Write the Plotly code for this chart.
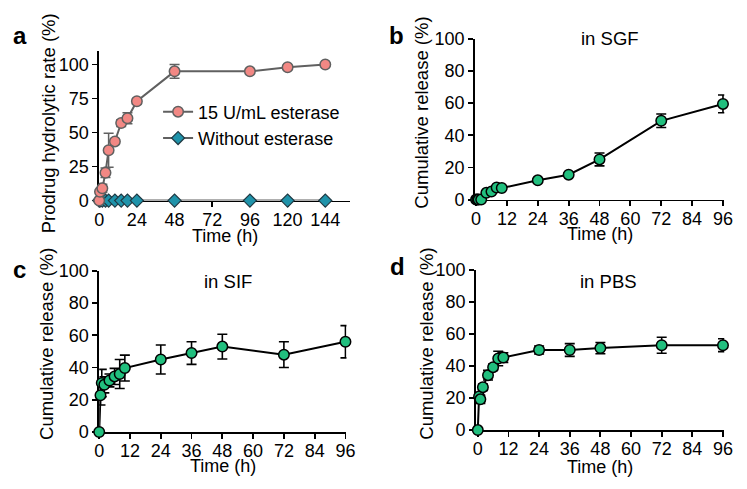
import plotly.graph_objects as go

W, H = 747, 489
FONT = "Arial, 'Liberation Sans', sans-serif"
FS_TICK = 18
FS = 18.5

# ---------------- data ----------------
a_time = [0, 0.5, 2, 4, 6, 10, 14, 18, 24, 48, 96, 120, 144]
a_esterase = [0, 6.5, 9, 20.5, 37, 43.5, 57, 60.5, 73, 95, 95, 98, 100]
a_esterase_err = [0, 6, 3, 3.5, 12.5, 2, 2.5, 4, 2, 5, 1.5, 1.5, 1]
a_without = [0, 0, 0, 0, 0, 0, 0, 0, 0, 0, 0, 0, 0]
a_without_err = [0, 0, 0, 0, 0, 0, 0, 0, 0, 0, 0, 0, 0]

rel_time = [0, 0.5, 1, 2, 4, 6, 8, 10, 24, 36, 48, 72, 96]
b_sgf = [0, 0, 0, 0, 4.2, 5, 7.5, 7.2, 12, 15.5, 25, 49, 59.5]
b_sgf_err = [0, 0.5, 0.5, 0.5, 1, 1, 1, 1, 1, 1, 4, 4.2, 5.5]
c_sif = [0, 22.8, 30.4, 29.3, 32, 34.5, 36, 39.7, 45, 49, 53, 48, 56]
c_sif_err = [0, 6, 8.5, 5, 4, 5, 9, 8, 9, 7, 7.7, 8, 10]
d_pbs = [0, 21, 19.2, 26.8, 34.3, 39.3, 44.7, 45.3, 50, 50, 51.2, 53, 53]
d_pbs_err = [0, 2, 2.5, 2, 3, 2, 4.5, 3, 2.5, 4, 3.5, 5, 4]

a_xticks = [0, 24, 48, 72, 96, 120, 144]
a_yticks = [0, 25, 50, 75, 100]
rel_xticks = [0, 12, 24, 36, 48, 60, 72, 84, 96]
rel_yticks = [0, 20, 40, 60, 80, 100]


def px_x(x):
    return x / W


def px_y(y):
    return 1 - y / H


PINK = "#F28884"
TEAL = "#1F93AA"
GREEN = "#21BF7E"
GRAY = "#606060"

fig = go.Figure()

# panel a
fig.add_trace(go.Scatter(
    x=a_time, y=a_without, name="Without esterase", mode="lines+markers",
    xaxis="x", yaxis="y",
    line=dict(color=GRAY, width=2),
    marker=dict(symbol="diamond", size=10, color=TEAL, line=dict(color="#203a44", width=1.2)),
    error_y=dict(type="data", array=a_without_err, color=GRAY, thickness=1.5, width=5),
    cliponaxis=False,
))
fig.add_trace(go.Scatter(
    x=a_time, y=a_esterase, name="15 U/mL esterase", mode="lines+markers",
    xaxis="x", yaxis="y",
    line=dict(color=GRAY, width=2),
    marker=dict(symbol="circle", size=10.5, color=PINK, line=dict(color=GRAY, width=1.5)),
    error_y=dict(type="data", array=a_esterase_err, color=GRAY, thickness=1.5, width=5),
    cliponaxis=False,
))

for (vals, errs, xa, ya) in [(b_sgf, b_sgf_err, "x2", "y2"),
                             (c_sif, c_sif_err, "x3", "y3"),
                             (d_pbs, d_pbs_err, "x4", "y4")]:
    fig.add_trace(go.Scatter(
        x=rel_time, y=vals, mode="lines+markers", showlegend=False,
        xaxis=xa, yaxis=ya,
        line=dict(color="black", width=2),
        marker=dict(symbol="circle", size=10.5, color=GREEN, line=dict(color="black", width=1.5)),
        error_y=dict(type="data", array=errs, color="black", thickness=1.6, width=5),
        cliponaxis=False,
    ))

axis_common = dict(
    showline=True, linecolor="black", linewidth=1.8, ticks="outside",
    ticklen=5, tickwidth=1.8, tickcolor="black", showgrid=False, zeroline=False,
    tickfont=dict(family=FONT, size=FS_TICK, color="black"), layer="below traces",
    fixedrange=True,
)
xaxis_extra = dict(ticklabelstandoff=-3)

layout = dict(
    width=W, height=H, margin=dict(l=0, r=0, t=0, b=0),
    paper_bgcolor="white", plot_bgcolor="white",
    font=dict(family=FONT, size=FS, color="black"),
    showlegend=True,
    legend=dict(x=px_x(156), y=px_y(87), xanchor="left", yanchor="top",
                bgcolor="rgba(0,0,0,0)", font=dict(family=FONT, size=18),
                traceorder="reversed", tracegroupgap=0, itemwidth=30),
    xaxis=dict(domain=[px_x(96), px_x(352)], range=[0, 160], tickvals=a_xticks,
               anchor="y", **axis_common, **xaxis_extra),
    yaxis=dict(domain=[px_y(198.7), px_y(42.7)], range=[0, 110], tickvals=a_yticks,
               anchor="x", **axis_common),
    xaxis2=dict(domain=[px_x(479), px_x(733)], range=[-0.4, 96.5], tickvals=rel_xticks,
                anchor="y2", **axis_common, **xaxis_extra),
    yaxis2=dict(domain=[px_y(197.7), px_y(30)], range=[0, 100], tickvals=rel_yticks,
                anchor="x2", **axis_common),
    xaxis3=dict(domain=[px_x(96), px_x(348)], range=[0, 96.4], tickvals=rel_xticks,
                anchor="y3", **axis_common, **xaxis_extra),
    yaxis3=dict(domain=[px_y(440), px_y(272)], range=[0, 100], tickvals=rel_yticks,
                anchor="x3", **axis_common),
    xaxis4=dict(domain=[px_x(480), px_x(733)], range=[-0.7, 96.5], tickvals=rel_xticks,
                anchor="y4", **axis_common, **xaxis_extra),
    yaxis4=dict(domain=[px_y(438), px_y(271)], range=[0, 100], tickvals=rel_yticks,
                anchor="x4", **axis_common),
)
fig.update_layout(**layout)


def ann(text, x, y, size=FS, bold=False, angle=0):
    fig.add_annotation(
        text=f"<b>{text}</b>" if bold else text,
        x=px_x(x), y=px_y(y), xref="paper", yref="paper",
        xanchor="center", yanchor="middle", showarrow=False, textangle=angle,
        font=dict(family=FONT, size=size, color="black"))


# panel letters
ann("a", 15, 27, size=24, bold=True)
ann("b", 399, 27, size=24, bold=True)
ann("c", 15, 271, size=24, bold=True)
ann("d", 400, 267, size=24, bold=True)

# panel titles
ann("in SGF", 617, 30)
ann("in SIF", 227, 283)
ann("in PBS", 615, 283)

# axis titles
ann("Time (h)", 224, 236, size=18)
ann("Time (h)", 606, 234, size=18)
ann("Time (h)", 222, 475, size=18)
ann("Time (h)", 606, 476, size=18)
ann("Prodrug hydrolytic rate (%)", 44, 118, angle=-90)
ann("Cumulative release (%)", 425, 107, angle=-90)
ann("Cumulative release (%)", 43, 348, angle=-90)
ann("Cumulative release (%)", 430, 348, angle=-90)

fig.write_html("out.html",
               config={"displayModeBar": False, "staticPlot": True},
               post_script="document.body.style.margin='0';document.body.style.padding='0';")
